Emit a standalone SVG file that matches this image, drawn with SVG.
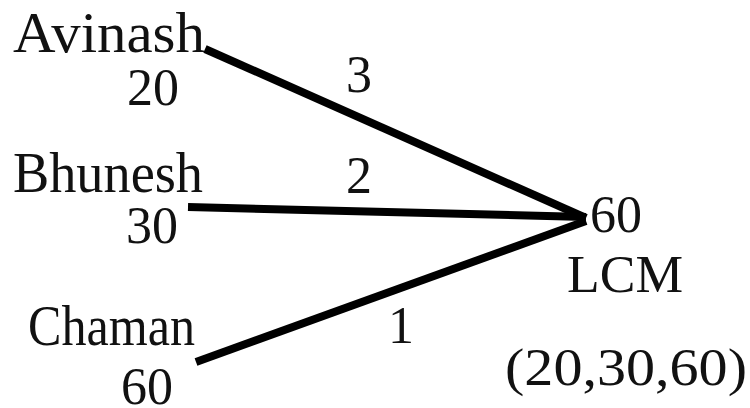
<svg xmlns="http://www.w3.org/2000/svg" width="750" height="408" viewBox="0 0 750 408">
<style>
text{font-family:"Liberation Serif","Times New Roman",serif;fill:#111;}
.n{font-size:56px;}
.d{font-size:52px;}
.e{stroke:#000;stroke-width:8;stroke-linecap:butt;fill:none;}
</style>
<rect width="750" height="408" fill="#fff"/>
<g id="connectors">
<line class="e" x1="205" y1="49" x2="586" y2="218"/>
<line class="e" x1="188" y1="207" x2="586" y2="217"/>
<line class="e" x1="196" y1="362" x2="586" y2="221"/>
<text class="d" x="346" y="92">3</text>
<text class="d" x="346" y="193">2</text>
<text class="d" x="388" y="343">1</text>
</g>
<g id="avinash">
<text class="n" x="13" y="52" textLength="192" lengthAdjust="spacingAndGlyphs">Avinash</text>
<text class="d" x="127" y="105">20</text>
</g>
<g id="bhunesh">
<text class="n" x="13" y="192" textLength="190" lengthAdjust="spacingAndGlyphs">Bhunesh</text>
<text class="d" x="126" y="243">30</text>
</g>
<g id="chaman">
<text class="n" x="28" y="345" textLength="167" lengthAdjust="spacingAndGlyphs">Chaman</text>
<text class="d" x="121" y="404">60</text>
</g>
<g id="lcm">
<text class="d" x="590" y="232">60</text>
<text class="d" x="567" y="292" textLength="116" lengthAdjust="spacingAndGlyphs">LCM</text>
<text class="d" x="505" y="385" textLength="242" lengthAdjust="spacingAndGlyphs">(20,30,60)</text>
</g>
</svg>
